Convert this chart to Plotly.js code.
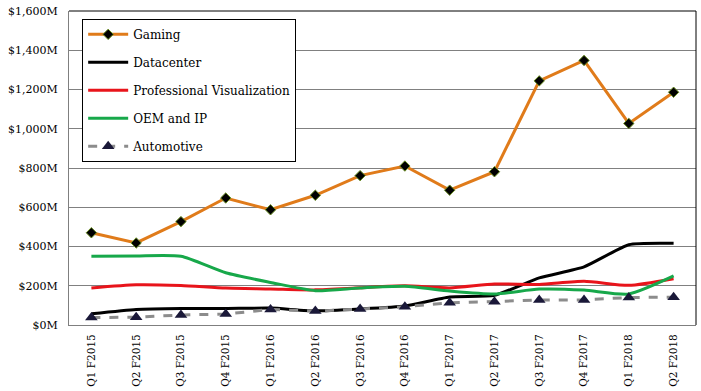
<!DOCTYPE html>
<html><head><meta charset="utf-8">
<script src="https://cdn.plot.ly/plotly-3.0.1.min.js"></script>
<style>html,body{margin:0;padding:0;background:#fff}#chart{width:701px;height:391px}</style>
</head><body><div id="chart"></div>
<script>
const quarters = ["Q1 F2015","Q2 F2015","Q3 F2015","Q4 F2015","Q1 F2016","Q2 F2016","Q3 F2016","Q4 F2016","Q1 F2017","Q2 F2017","Q3 F2017","Q4 F2017","Q1 F2018","Q2 F2018"];
const gaming = [470,418,527,647,587,661,761,810,687,781,1244,1348,1027,1186];
const datacenter = [57,79,84,84,86,72,82,97,143,151,240,296,409,416];
const proVis = [189,205,201,188,184,179,190,200,189,209,207,223,202,236];
const oemIp = [350,352,350,266,217,175,189,197,173,158,183,178,158,250];
const automotive = [38,40,51,56,79,71,81,93,113,119,127,128,140,142];
const yTicks = [0,200,400,600,800,1000,1200,1400,1600];

const font = "DejaVu Serif";
const traces = [
  {name:"Gaming", y:gaming, line:{color:"#E07B1A", width:3}, mode:"lines+markers",
   marker:{symbol:"diamond", size:8, color:"#000", line:{color:"#6b8e23", width:1}}},
  {name:"Datacenter", y:datacenter, line:{color:"#000", width:3, shape:"spline", smoothing:0.5}, mode:"lines"},
  {name:"Professional Visualization", y:proVis, line:{color:"#E8141B", width:3, shape:"spline", smoothing:0.6}, mode:"lines"},
  {name:"OEM and IP", y:oemIp, line:{color:"#17A84A", width:3, shape:"spline", smoothing:0.6}, mode:"lines"},
  {name:"Automotive", y:automotive, line:{color:"#8c8c8c", width:3, dash:"dash"}, mode:"lines+markers",
   marker:{symbol:"triangle-up", size:11, color:"#1a1838"}}
].map((t,i)=>Object.assign({type:"scatter", x:quarters, legendgroup:"g"+i}, t));

const layout = {
  width:701, height:391,
  margin:{l:69, r:5, t:11, b:66},
  paper_bgcolor:"#fff", plot_bgcolor:"#fff",
  font:{family:font, size:12, color:"#000"},
  showlegend:true,
  legend:{x:0.021, y:0.975, xanchor:"left", yanchor:"top", bgcolor:"#fff",
    bordercolor:"#000", borderwidth:1, font:{family:font, size:12, color:"#000"},
    tracegroupgap:9, traceorder:"grouped", itemwidth:40},
  xaxis:{type:"category", tickangle:-90, tickfont:{family:font, size:10.5},
    showgrid:false, showline:true, linecolor:"#7f7f7f", linewidth:1, ticks:"", zeroline:false,
    range:[-0.5, quarters.length-0.5], ticklabelstandoff:4},
  yaxis:{range:[0,1600], tickvals:yTicks, ticktext:yTicks.map(v=>"$"+v.toLocaleString("en-US")+"M"),
    tickfont:{family:font, size:11}, showgrid:true, gridcolor:"#808080", gridwidth:1,
    showline:true, linecolor:"#7f7f7f", linewidth:1, ticks:"", zeroline:false, ticklabelstandoff:8},
  shapes:[
    {type:"line", xref:"paper", yref:"paper", x0:0, x1:1, y0:1, y1:1, line:{color:"#000", width:1}},
    {type:"line", xref:"paper", yref:"paper", x0:1, x1:1, y0:0, y1:1, line:{color:"#000", width:1}}
  ]
};
Plotly.newPlot("chart", traces, layout, {displayModeBar:false, staticPlot:true});
</script></body></html>
